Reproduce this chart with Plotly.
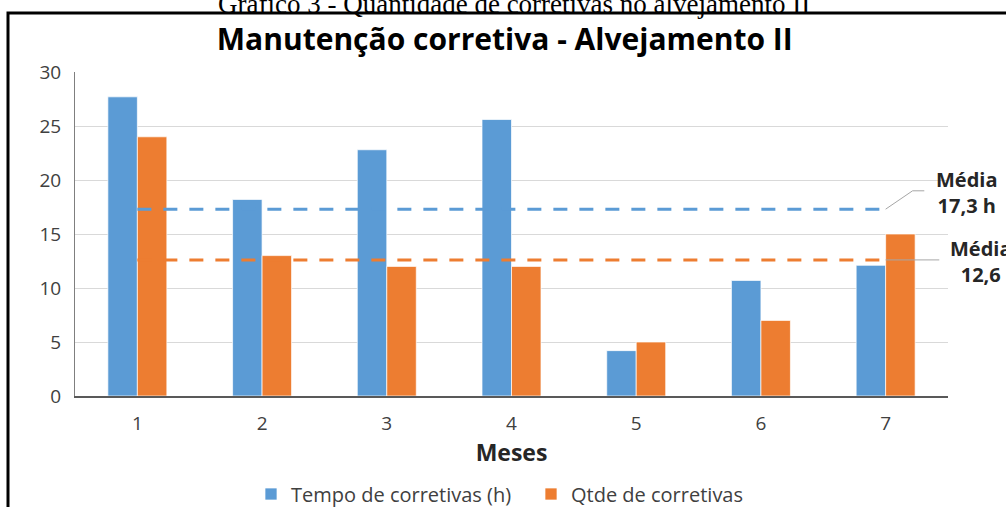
import plotly.graph_objects as go

# Monthly corrective-maintenance data
meses = [1, 2, 3, 4, 5, 6, 7]
tempo_h = [27.7, 18.2, 22.8, 25.6, 4.2, 10.7, 12.1]
qtde = [24, 13, 12, 12, 5, 7, 15]
media_tempo = round(sum(tempo_h) / len(tempo_h), 1)
media_qtde = round(sum(qtde) / len(qtde), 1)

W, H = 1006, 507
ML, MR, MT, MB = 75, 58, 72, 111
PW, PH = W - ML - MR, H - MT - MB


def px(x):
    return (x - ML) / PW


def py(y):
    return (H - MB - y) / PH


BLUE = "#5B9BD5"
ORANGE = "#ED7D31"
FONT = "Open Sans"

fig = go.Figure()
fig.add_trace(go.Bar(x=meses, y=tempo_h, name="Tempo de corretivas (h)",
                     marker=dict(color=BLUE, line=dict(color="rgba(255,255,255,0.7)", width=1))))
fig.add_trace(go.Bar(x=meses, y=qtde, name="Qtde de corretivas",
                     marker=dict(color=ORANGE, line=dict(color="rgba(255,255,255,0.7)", width=1))))
fig.add_trace(go.Scatter(x=meses, y=[media_tempo] * len(meses), mode="lines", showlegend=False,
                         line=dict(color=BLUE, width=3, dash="14px,12px"), hoverinfo="skip"))
fig.add_trace(go.Scatter(x=meses, y=[media_qtde] * len(meses), mode="lines", showlegend=False,
                         line=dict(color=ORANGE, width=3, dash="14px,12px"), hoverinfo="skip"))

shapes = [
    # outer frame (left and top edges)
    dict(type="path", xref="paper", yref="paper",
         path=f"M {px(8)},{py(560)} L {px(8)},{py(13)} L {px(1040)},{py(13)}",
         line=dict(color="black", width=3)),
    # leader lines for the average labels
    dict(type="path", xref="x", yref="y",
         path=f"M 7,{media_tempo} L 7.216,19.0 L 7.31,19.0",
         line=dict(color="#A6A6A6", width=1)),
    dict(type="line", xref="x", yref="y", x0=7, x1=7.43, y0=media_qtde, y1=media_qtde,
         line=dict(color="#A6A6A6", width=1)),
]

annotations = [
    dict(text="Gráfico 3 - Quantidade de corretivas no alvejamento II", xref="paper", yref="paper",
         x=px(514), y=py(4), showarrow=False, xanchor="center", yanchor="middle",
         font=dict(family="Liberation Serif", size=27, color="black")),
    dict(text="<b>Média<br>" + f"{media_tempo}".replace(".", ",") + " h</b>", xref="paper", yref="paper",
         x=px(967), y=py(192), showarrow=False, xanchor="center", yanchor="middle", align="center",
         font=dict(family=FONT, size=20, color="#262626")),
    dict(text="<b>Média<br>" + f"{media_qtde}".replace(".", ",") + "</b>", xref="paper", yref="paper",
         x=px(981), y=py(261), showarrow=False, xanchor="center", yanchor="middle", align="center",
         font=dict(family=FONT, size=20, color="#262626")),
]

fig.update_layout(
    width=W, height=H,
    margin=dict(l=ML, r=MR, t=MT, b=MB, autoexpand=False),
    paper_bgcolor="white", plot_bgcolor="white",
    barmode="group", bargap=0.527, bargroupgap=0,
    title=dict(text="<b>Manutenção corretiva - Alvejamento II</b>", x=px(513), xanchor="center",
               y=1 - 39 / H, yanchor="middle", font=dict(family=FONT, size=30, color="black")),
    font=dict(family=FONT, size=19, color="#595959"),
    xaxis=dict(range=[0.5, 7.5], tickvals=meses, ticktext=[str(m) for m in meses],
               showgrid=False, showline=True, linecolor="#595959", linewidth=2, ticks="",
               automargin=False, ticklabelstandoff=9, tickfont=dict(size=19, color="#404040"),
               title=dict(text="<b>Meses</b>", font=dict(size=23, color="#262626"), standoff=4)),
    yaxis=dict(range=[0, 30], dtick=5, showgrid=True, gridcolor="#D9D9D9", gridwidth=1,
               showline=True, linecolor="#7F7F7F", linewidth=1, zeroline=False, ticks="",
               automargin=False, ticklabelstandoff=9, tickfont=dict(size=19, color="#404040")),
    legend=dict(orientation="h", x=px(251), xanchor="left", y=py(494), yanchor="middle",
                font=dict(size=20, color="#404040"), itemwidth=30, traceorder="normal",
                entrywidth=235, entrywidthmode="pixels"),
    shapes=shapes, annotations=annotations,
)

fig.write_html("out.html")
